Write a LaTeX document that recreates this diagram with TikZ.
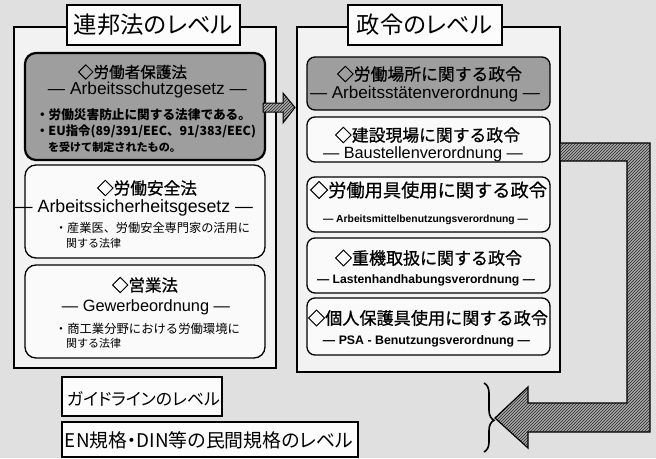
\documentclass[tikz,border=0pt]{standalone}
\usepackage{fontspec}
\usepackage{graphicx}
\setmainfont{Liberation Sans}
\newfontfamily\jp{Noto Sans CJK JP}
\newfontfamily\jph[FakeBold=0.7]{Noto Sans CJK JP}
\newfontfamily\jpp[RawFeature=+palt]{Noto Sans CJK JP}
\usetikzlibrary{patterns,decorations.pathreplacing}
\newcommand\fitw[2]{\resizebox{#1}{!}{#2}}
\definecolor{bgc}{gray}{0.88}
\definecolor{boxc}{gray}{0.95}
\definecolor{grayfill}{gray}{0.62}
\definecolor{inkc}{gray}{0.0}
\definecolor{paperc}{gray}{0.99}
\tikzset{
  outerbox/.style={draw=inkc, line width=1.4pt, fill=boxc},
  titlefill/.style={fill=paperc},
  titleline/.style={draw=inkc, line width=1.6pt},
  lawbox/.style={draw=inkc, line width=1.3pt, fill=white!96!gray, rounded corners=11pt},
  graybox/.style={draw=inkc, line width=2.2pt, fill=grayfill, rounded corners=11pt},
  rbox/.style={draw=inkc, line width=1.3pt, fill=white!96!gray, rounded corners=8pt},
  rgraybox/.style={draw=inkc, line width=1.3pt, fill=grayfill, rounded corners=8pt},
  txt/.style={inner sep=0pt, outer sep=0pt},
  fatarrow/.style={draw=inkc, line width=1.2pt, preaction={fill=gray!68}, pattern=north east lines, pattern color=black!85},
}
\begin{document}
\begin{tikzpicture}[x=1pt,y=-1pt]
\fill[bgc] (0,0) rectangle (656,458);
\useasboundingbox (0,0) rectangle (656,458);

% outer boxes
\draw[outerbox] (14,27) rectangle (276,368);
\draw[outerbox] (297,27) rectangle (560,372);
\fill[titlefill] (67,5) rectangle (240,45);
\draw[titleline] (67,5) rectangle (240,45);
\node[txt] (t1) at (153.5,25) {\fitw{159pt}{\jpp\fontsize{22}{22}\selectfont 連邦法のレベル}};
\fill[titlefill] (348,5) rectangle (502,45);
\draw[titleline] (348,5) rectangle (502,45);
\node[txt] (t2) at (424.5,25) {\fitw{135pt}{\jpp\fontsize{22}{22}\selectfont 政令のレベル}};

% left law boxes
\node[graybox, minimum width=240pt, minimum height=107pt, inner sep=0pt] (b1) at (145,106.5) {};
\node[lawbox, minimum width=240pt, minimum height=93pt, inner sep=0pt] (b2) at (145,211.5) {};
\node[lawbox, minimum width=240pt, minimum height=93pt, inner sep=0pt] (b3) at (145,311.5) {};

\node[txt] (b1h) at (132.5,72) {\fitw{109pt}{\jph\fontsize{15}{15}\selectfont ◇労働者保護法}};
\node[txt] (b1g) at (147.5,90) {\fitw{199pt}{\fontsize{15}{15}\selectfont — Arbeitsschutzgesetz —}};
\node[txt, anchor=west] (b1a) at (36,115) {\fitw{215pt}{\jp\bfseries\fontsize{12}{12}\selectfont ・労働災害防止に関する法律である。}};
\node[txt, anchor=west] (b1b) at (36,131) {\fitw{220pt}{\jp\bfseries\fontsize{12}{12}\selectfont ・EU指令(89/391/EEC、91/383/EEC)}};
\node[txt, anchor=west] (b1c) at (48,147) {\fitw{133pt}{\jp\bfseries\fontsize{12}{12}\selectfont を受けて制定されたもの。}};

\node[txt] (b2h) at (147,188) {\fitw{100pt}{\jph\fontsize{15}{15}\selectfont ◇労働安全法}};
\node[txt] (b2g) at (134,208) {\fitw{238pt}{\fontsize{15}{15}\selectfont — Arbeitssicherheitsgesetz —}};
\node[txt, anchor=west] (b2a) at (55,228) {\fitw{195pt}{\jp\fontsize{12}{12}\selectfont ・産業医、労働安全専門家の活用に}};
\node[txt, anchor=west] (b2b) at (66,243) {\fitw{55pt}{\jp\fontsize{12}{12}\selectfont 関する法律}};

\node[txt] (b3h) at (145,285) {\fitw{66pt}{\jph\fontsize{15}{15}\selectfont ◇営業法}};
\node[txt] (b3g) at (146,307) {\fitw{168pt}{\fontsize{15}{15}\selectfont — Gewerbeordnung —}};
\node[txt, anchor=west] (b3a) at (55,329) {\fitw{185pt}{\jp\fontsize{12}{12}\selectfont ・商工業分野における労働環境に}};
\node[txt, anchor=west] (b3b) at (66,343) {\fitw{55pt}{\jp\fontsize{12}{12}\selectfont 関する法律}};

% right boxes
\node[rgraybox, minimum width=243pt, minimum height=53pt, inner sep=0pt] (ra) at (428.5,83.5) {};
\node[rbox, minimum width=243pt, minimum height=45pt, inner sep=0pt] (rb) at (428.5,139.5) {};
\node[rbox, minimum width=243pt, minimum height=55pt, inner sep=0pt] (rc) at (428.5,204.5) {};
\node[rbox, minimum width=243pt, minimum height=55pt, inner sep=0pt] (rd) at (428.5,265.5) {};
\node[rbox, minimum width=243pt, minimum height=57pt, inner sep=0pt] (re) at (428.5,326.5) {};

\node[txt] (rah) at (429.5,74) {\fitw{185pt}{\jph\fontsize{16}{16}\selectfont ◇労働場所に関する政令}};
\node[txt] (rag) at (425,94) {\fitw{230pt}{\fontsize{15}{15}\selectfont — Arbeitsstätenverordnung —}};
\node[txt] (rbh) at (427.5,135) {\fitw{185pt}{\jph\fontsize{16}{16}\selectfont ◇建設現場に関する政令}};
\node[txt] (rbg) at (423,154) {\fitw{200pt}{\fontsize{15}{15}\selectfont — Baustellenverordnung —}};
\node[txt] (rch) at (428.5,190) {\fitw{237pt}{\jph\fontsize{17}{17}\selectfont ◇労働用具使用に関する政令}};
\node[txt] (rcg) at (425.5,220) {\fitw{205pt}{\bfseries\fontsize{8}{8}\selectfont — Arbeitsmittelbenutzungsverordnung —}};
\node[txt] (rdh) at (428.5,258) {\fitw{187pt}{\jph\fontsize{17}{17}\selectfont ◇重機取扱に関する政令}};
\node[txt] (rdg) at (426,280) {\fitw{218pt}{\bfseries\fontsize{11}{11}\selectfont — Lastenhandhabungsverordnung —}};
\node[txt] (reh) at (428,318) {\fitw{240pt}{\jph\fontsize{17}{17}\selectfont ◇個人保護具使用に関する政令}};
\node[txt] (reg) at (426.5,341) {\fitw{207pt}{\bfseries\fontsize{11}{11}\selectfont — PSA - Benutzungsverordnung —}};

% small arrow between columns
\draw[fatarrow, line width=1pt] (263,103) -- (283,103) -- (283,93) -- (295,107.5) -- (283,123) -- (283,112) -- (263,112) -- cycle;

% big L arrow
\draw[fatarrow] (560,143) -- (650,143) -- (650,432) -- (528,432) -- (528,448) -- (495,418) -- (528,387) -- (528,403) -- (627,403) -- (627,161) -- (560,161) -- cycle;

% bottom boxes
\fill[titlefill] (62,377) rectangle (222,416);
\draw[titleline] (62,377) rectangle (222,416);
\node[txt] (g1) at (143.5,398.5) {\fitw{153pt}{\jpp\fontsize{22}{22}\selectfont ガイドラインのレベル}};
\fill[titlefill] (62,422) rectangle (358,457);
\draw[titleline] (62,422) rectangle (358,457);
\node[txt] (g2) at (209,440) {\fitw{288pt}{\jpp\fontsize{22}{22}\selectfont EN規格・DIN等の民間規格のレベル}};

% brace
\draw[line width=1.6pt, decorate, decoration={brace, amplitude=10pt, aspect=0.54}] (484,383) -- (484,452);
\end{tikzpicture}
\end{document}
